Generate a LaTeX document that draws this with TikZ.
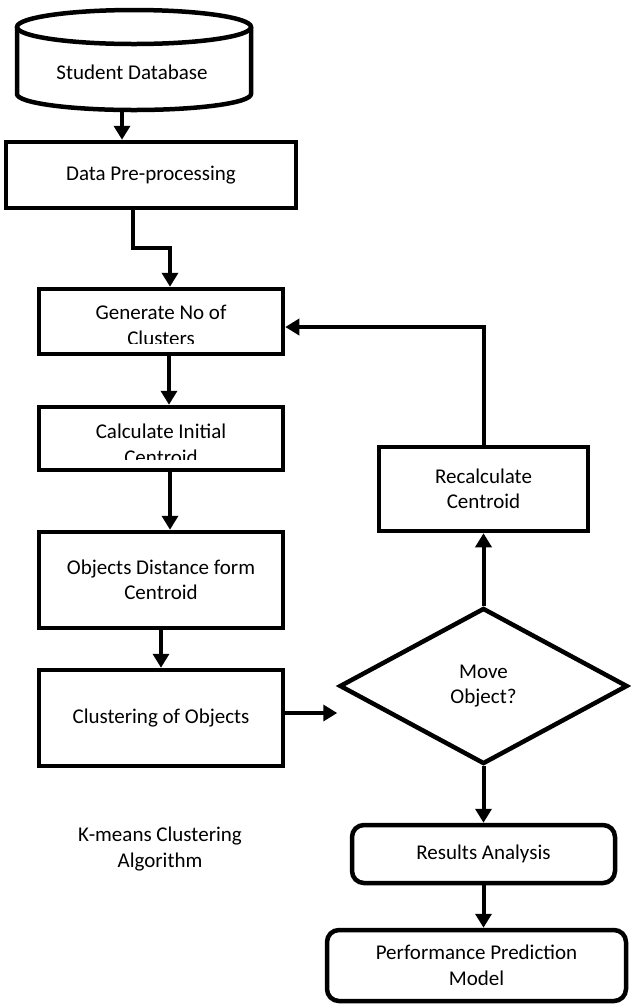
\documentclass[tikz,border=0pt]{standalone}
\usepackage{fontspec}
\setmainfont{Carlito}
\usetikzlibrary{arrows.meta,shapes.geometric}

\begin{document}
\begin{tikzpicture}[x=1pt,y=-1pt,line width=4.5pt,
  every node/.style={font=\fontsize{21}{25.5}\selectfont, align=center, inner sep=0pt},
  box/.style={draw, rectangle},
  rbox/.style={draw, rectangle, rounded corners=12pt},
  arr/.style={line width=4pt, -{Triangle[length=14pt,width=16pt]}}]
\useasboundingbox (0,0) rectangle (631,1005);

% database
\node (db) [minimum width=234pt, minimum height=100pt, outer sep=0pt] at (134,60) {};
\draw ([yshift=-17pt]db.north west) -- ([yshift=16pt]db.south west)
  arc[start angle=180, end angle=360, x radius=117pt, y radius=16pt]
  -- ([yshift=-17pt]db.north east);
\draw ([yshift=-17pt]db.north) ellipse[x radius=117pt, y radius=17pt];
\node (dbtext) at (132,72) {Student Database};

% left column
\node (dat) [box, minimum width=290pt, minimum height=66pt] at (151,175) {Data Pre-processing};
\node (gen) [box, minimum width=244pt, minimum height=65pt] at (161,321.5) {};
\begin{scope}
\clip (gen.north west) rectangle ([yshift=13pt]gen.south east);
\node (gentext) at (161,325.5) {Generate No of\\Clusters};
\end{scope}
\node (calc) [box, minimum width=244pt, minimum height=63pt] at (161,438.5) {};
\begin{scope}
\clip (calc.north west) rectangle ([yshift=13pt]calc.south east);
\node (calctext) at (161,444.5) {Calculate Initial\\Centroid};
\end{scope}
\node (obj) [box, minimum width=244pt, minimum height=96pt] at (161,580) {Objects Distance form\\Centroid};
\node (clu) [box, minimum width=244pt, minimum height=96pt] at (161,718) {Clustering of Objects};
\node (algo) at (160,849) {K-means Clustering\\Algorithm};

% right column
\node (rec) [box, minimum width=209pt, minimum height=84pt] at (483.5,489) {Recalculate\\Centroid};
\node (dia) [draw, diamond, minimum width=288pt, minimum height=156pt] at (483.5,686) {Move\\Object?};
\node (res) [rbox, minimum width=263pt, minimum height=58pt] at (483.5,854) {Results Analysis};
\node (perf) [rbox, minimum width=299pt, minimum height=71pt] at (476.5,965.5) {Performance Prediction\\Model};

\draw[arr] ([xshift=-12pt]db.south) -- ([xshift=-12pt]db.south |- dat.north);
\draw[arr] ([xshift=-18pt]dat.south) -- ++(0,38) -| ([xshift=9pt]gen.north);
\draw[arr] ([xshift=8pt]gen.south) -- ([xshift=8pt]calc.north);
\draw[arr] ([xshift=9pt]calc.south) -- ([xshift=9pt]obj.north);
\draw[arr] (obj.south) -- (clu.north);
\draw[arr] ([yshift=5pt]clu.east) -- ([yshift=5pt]clu.east -| dia.west);
\draw[arr] (dia.north) -- (rec.south);
\draw[arr] (rec.north) |- ([yshift=-5.5pt]gen.east);
\draw[arr] (dia.south) -- (res.north);
\draw[arr] (res.south) -- (res.south |- perf.north);
\end{tikzpicture}
\end{document}
